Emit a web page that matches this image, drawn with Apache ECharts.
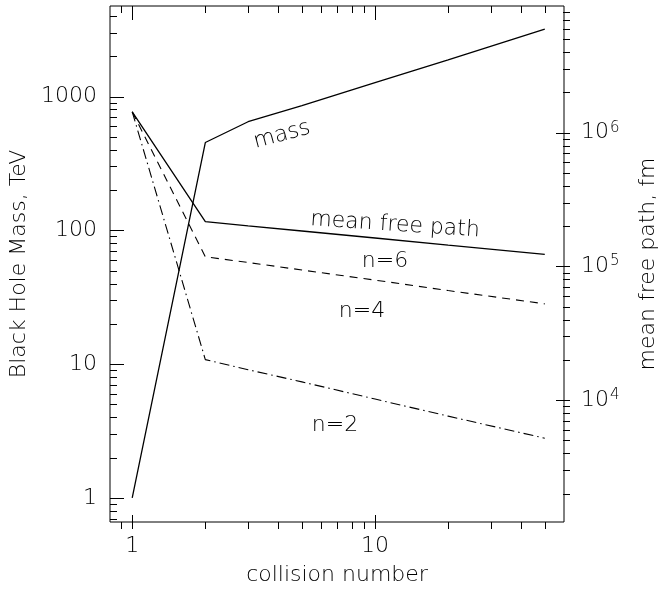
<!DOCTYPE html>
<html><head><meta charset="utf-8">
<script src="https://cdn.jsdelivr.net/npm/echarts@6/dist/echarts.min.js"></script>
<style>html,body{margin:0;padding:0;background:#fff}#c{width:667px;height:591px}</style>
</head><body><div id="c"></div>
<script>
// ---- data ----
const collisions = [1, 2, 3, 5, 10, 20, 50];
const massTeV = [1, 453, 648, 855, 1270, 1880, 3190];
const mfpN6 = [1.43e6, 2.16e5, 2.01e5, 1.84e5, 1.63e5, 1.44e5, 1.23e5];
const mfpN4 = [1.43e6, 1.18e5, 1.07e5, 9.4e4, 7.9e4, 6.6e4, 5.25e4];
const mfpN2 = [1.43e6, 2.01e4, 1.69e4, 1.37e4, 1.02e4, 7.6e3, 5.2e3];
const xRange = [0.81, 60];
const massRange = [0.66, 4750];
const mfpRange = [1229, 8.84e6];
const xTickLabels = [1, 10];
const massTickLabels = [1, 10, 100, 1000];
const mfpTickLabels = [1e4, 1e5, 1e6];

const FONT = 'DejaVu Sans';
const FS = 22;
const TXT = '#000';
const G = {left: 110, top: 6, right: 97, bottom: 62};

function isIn(list, v) {
  return list.some(t => Math.abs(Math.log10(v) - Math.log10(t)) < 1e-6);
}
function pairs(xs, ys) { return xs.map((x, i) => [x, ys[i]]); }
const ts = extra => Object.assign({fontFamily: FONT, fontSize: FS, fontWeight: 200, color: TXT}, extra || {});

const chart = echarts.init(document.getElementById('c'), null, {renderer: 'canvas'});
chart.setOption({
  animation: false,
  backgroundColor: '#fff',
  grid: {left: G.left, top: G.top, right: G.right, bottom: G.bottom, show: true, borderColor: '#000', borderWidth: 1, backgroundColor: 'transparent'},
  xAxis: {
    type: 'log', logBase: 10, min: xRange[0], max: xRange[1],
    axisLine: {show: false}, axisTick: {show: false}, splitLine: {show: false},
    axisLabel: ts({margin: 13, formatter: v => isIn(xTickLabels, v) ? String(Math.round(v)) : ''}),
    name: 'collision number', nameLocation: 'middle', nameGap: 42,
    nameTextStyle: ts()
  },
  yAxis: [{
    type: 'log', logBase: 10, min: massRange[0], max: massRange[1], position: 'left',
    axisLine: {show: false}, axisTick: {show: false}, splitLine: {show: false},
    axisLabel: ts({margin: 13, formatter: v => isIn(massTickLabels, v) ? String(Math.round(v)) : ''}),
    name: 'Black Hole Mass, TeV', nameLocation: 'middle', nameGap: 76, nameRotate: 90,
    nameTextStyle: ts()
  }, {
    type: 'log', logBase: 10, min: mfpRange[0], max: mfpRange[1], position: 'right',
    axisLine: {show: false}, axisTick: {show: false}, splitLine: {show: false},
    axisLabel: ts({margin: 17,
      formatter: v => isIn(mfpTickLabels, v) ? '10{sup|' + Math.round(Math.log10(v)) + '}' : '',
      rich: {sup: ts({fontSize: 15, verticalAlign: 'top', padding: [0, 0, 10, 1]})}}),
    name: 'mean free path, fm', nameLocation: 'middle', nameGap: 73, nameRotate: 90,
    nameTextStyle: ts()
  }],
  series: [
    {type: 'line', name: 'mass', yAxisIndex: 0, data: pairs(collisions, massTeV), symbol: 'none',
     lineStyle: {color: '#000', width: 1.3}},
    {type: 'line', name: 'n=6', yAxisIndex: 1, data: pairs(collisions, mfpN6), symbol: 'none',
     lineStyle: {color: '#000', width: 1.3}},
    {type: 'line', name: 'n=4', yAxisIndex: 1, data: pairs(collisions, mfpN4), symbol: 'none',
     lineStyle: {color: '#000', width: 1.1, type: [8, 6]}},
    {type: 'line', name: 'n=2', yAxisIndex: 1, data: pairs(collisions, mfpN2), symbol: 'none',
     lineStyle: {color: '#000', width: 1.1, type: [10, 4, 1.5, 4]}}
  ]
});

// ---- tick marks via the library's scales ----
function decadeTicks(lo, hi) {
  const out = [];
  for (let e = Math.floor(Math.log10(lo)); e <= Math.ceil(Math.log10(hi)); e++) {
    for (let m = 1; m <= 9; m++) {
      const v = m * Math.pow(10, e);
      if (v > lo * 1.001 && v < hi * 0.999) out.push({v, major: m === 1});
    }
  }
  return out;
}
const W = 667, H = 591;
const L = G.left, R = W - G.right, T = G.top, B = H - G.bottom;
const MAJ = 14, MIN = 7;
const els = [];
function seg(x1, y1, x2, y2) {
  els.push({type: 'line', silent: true, shape: {x1, y1, x2, y2}, style: {stroke: '#000', lineWidth: 1}});
}
decadeTicks(xRange[0], xRange[1]).forEach(t => {
  const px = Math.round(chart.convertToPixel({xAxisIndex: 0}, t.v)) + 0.5;
  const len = t.major ? MAJ : MIN;
  seg(px, B, px, B - len);
  seg(px, T, px, T + len);
});
decadeTicks(massRange[0], massRange[1]).forEach(t => {
  const py = Math.round(chart.convertToPixel({yAxisIndex: 0}, t.v)) + 0.5;
  seg(L, py, L + (t.major ? MAJ : MIN), py);
});
decadeTicks(mfpRange[0], mfpRange[1]).forEach(t => {
  const py = Math.round(chart.convertToPixel({yAxisIndex: 1}, t.v)) + 0.5;
  seg(R, py, R - (t.major ? MAJ : MIN), py);
});
// curve labels
const lab = (text, x, y, rot) => els.push({type: 'text', silent: true, x, y, rotation: rot || 0,
  style: {text, fontFamily: FONT, fontSize: FS, fontWeight: 200, fill: TXT, align: 'center', verticalAlign: 'middle'}});
lab('mass', 282, 135, 0.26);
lab('mean free path', 395, 225, -0.066);
lab('n=6', 385, 261);
lab('n=4', 362, 311);
lab('n=2', 335, 425);
chart.setOption({graphic: els});
</script>
</body></html>
